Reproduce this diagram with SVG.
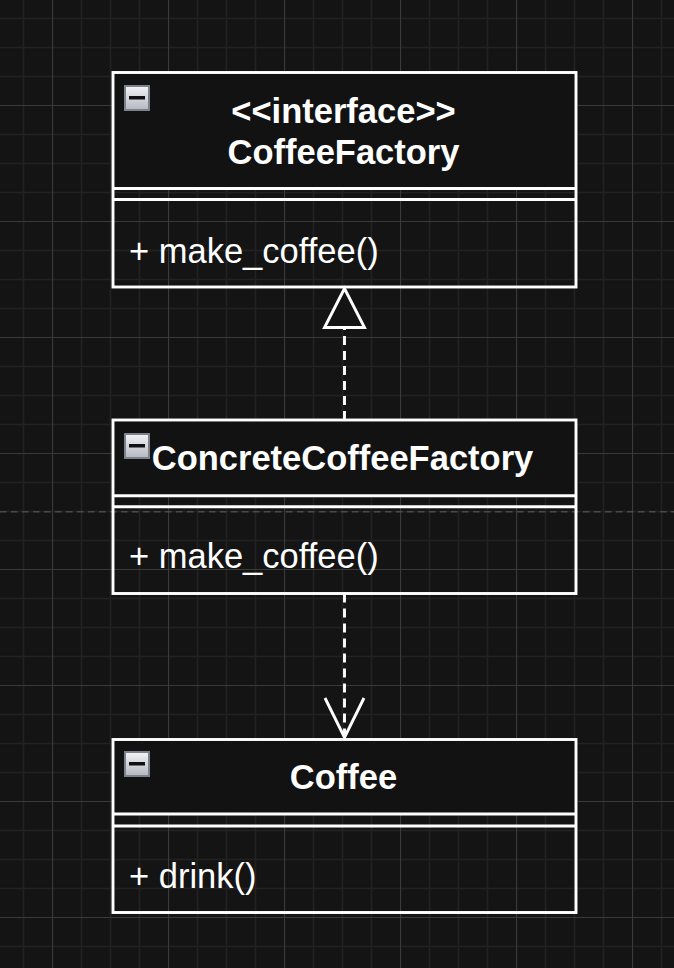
<svg xmlns="http://www.w3.org/2000/svg" width="674" height="968" viewBox="0 0 674 968">
<defs>
<pattern id="grid" x="52" y="105" width="116" height="116" patternUnits="userSpaceOnUse">
<path d="M29.5 0V116M58.5 0V116M87.5 0V116M0 29.5H116M0 58.5H116M0 87.5H116" stroke="#222222" stroke-width="1.5" fill="none"/>
<path d="M0.5 0V116M0 0.5H116" stroke="#3a3a3a" stroke-width="1.2" fill="none"/>
</pattern>
<linearGradient id="ig" x1="0" y1="0" x2="0" y2="1">
<stop offset="0" stop-color="#f4f4f6"/>
<stop offset="1" stop-color="#b4b8c0"/>
</linearGradient>
<g id="icon">
<rect x="1" y="1" width="24" height="24" fill="url(#ig)" stroke="#7c818c" stroke-width="2"/>
<rect x="5" y="11" width="16" height="3.5" fill="#111111"/>
</g>
</defs>
<style>
.box{fill:none;stroke:#ffffff;stroke-width:2.9}
.hdr{fill:#121212;stroke:none}
.sep{stroke:#ffffff;stroke-width:2.9;fill:none}
.title{font-family:"Liberation Sans",Arial,Helvetica,sans-serif;font-weight:bold;font-size:34.5px;fill:#ffffff;text-anchor:middle}
.member{font-family:"Liberation Sans",Arial,Helvetica,sans-serif;font-size:34.5px;fill:#ffffff}
.conn{stroke:#ffffff;stroke-width:2.9;fill:none}
.dash{stroke-dasharray:9 6}
</style>
<rect width="674" height="968" fill="#141414"/>
<rect width="674" height="968" fill="url(#grid)"/>
<line x1="0" y1="511.7" x2="674" y2="511.7" stroke="#4a4a4a" stroke-width="1.5" stroke-dasharray="6.5 4.5"/>

<g id="connectors">
<line class="conn dash" x1="344.5" y1="420" x2="344.5" y2="327.5"/>
<polygon class="conn" points="344.5,288.5 324.5,327.5 364.5,327.5" style="fill:#141414"/>
<line class="conn dash" x1="344.5" y1="593.5" x2="344.5" y2="737"/>
<polyline class="conn" points="325,698 344.5,737.5 364,698"/>
</g>

<g id="CoffeeFactory">
<rect class="hdr" x="113" y="72.5" width="463" height="116"/>
<rect class="box" x="113" y="72.5" width="463" height="214.5"/>
<line class="sep" x1="113" y1="188.5" x2="576" y2="188.5"/>
<line class="sep" x1="113" y1="199.5" x2="576" y2="199.5"/>
<use href="#icon" x="124" y="85"/>
<text class="title" x="343.5" y="123">&lt;&lt;interface&gt;&gt;</text>
<text class="title" x="343.5" y="164">CoffeeFactory</text>
<text class="member" x="129" y="263">+ make_coffee()</text>
</g>

<g id="ConcreteCoffeeFactory">
<rect class="hdr" x="113" y="420" width="463" height="75.5"/>
<rect class="box" x="113" y="420" width="463" height="173.5"/>
<line class="sep" x1="113" y1="495.7" x2="576" y2="495.7"/>
<line class="sep" x1="113" y1="506.7" x2="576" y2="506.7"/>
<use href="#icon" x="124" y="433"/>
<text class="title" x="342.5" y="470">ConcreteCoffeeFactory</text>
<text class="member" x="129" y="568">+ make_coffee()</text>
</g>

<g id="Coffee">
<rect class="hdr" x="113" y="739.5" width="463" height="74.5"/>
<rect class="box" x="113" y="739.5" width="463" height="173"/>
<line class="sep" x1="113" y1="814" x2="576" y2="814"/>
<line class="sep" x1="113" y1="826" x2="576" y2="826"/>
<use href="#icon" x="124" y="751"/>
<text class="title" x="343.5" y="789">Coffee</text>
<text class="member" x="129" y="888">+ drink()</text>
</g>
</svg>
